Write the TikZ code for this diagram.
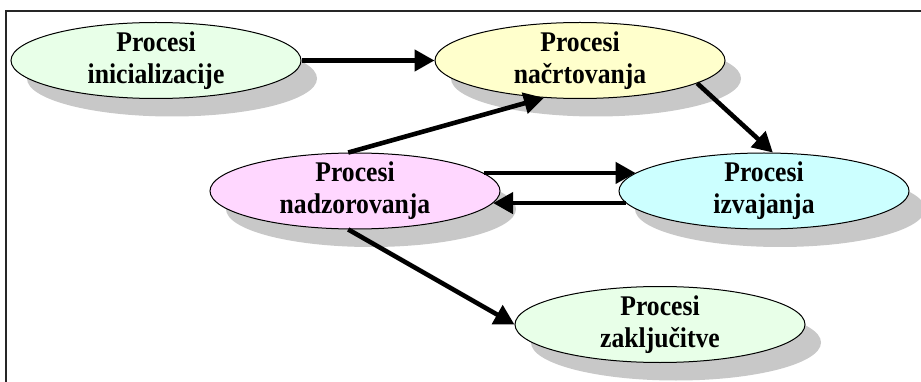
\documentclass[tikz,border=0pt]{standalone}
\usepackage{fontspec}
\setmainfont{Liberation Serif}
\newfontfamily\phasefont{Liberation Serif}[FakeStretch=0.9]
\usetikzlibrary{shapes.geometric,shadows,arrows.meta}

\definecolor{fillgreen}{RGB}{232,255,232}
\definecolor{fillyellow}{RGB}{255,255,204}
\definecolor{fillpink}{RGB}{255,215,255}
\definecolor{fillcyan}{RGB}{204,255,255}
\definecolor{shadowgray}{RGB}{200,200,200}

\tikzset{
  phase/.style={ellipse, draw=black, line width=1pt,
    minimum width=290pt, minimum height=76pt,
    inner xsep=0pt, inner ysep=-8pt, align=center,
    font=\phasefont\bfseries\fontsize{28.5}{32}\selectfont,
    drop shadow={shadow xshift=16pt, shadow yshift=-18pt,
      opacity=1, fill=shadowgray}},
  flow/.style={line width=4.6pt, -{Triangle[length=20pt,width=21pt]}},
  frame/.style={line width=1.6pt, draw=black!85}
}

\begin{document}
\begin{tikzpicture}[x=1pt,y=-1pt]
  \useasboundingbox (0,0) rectangle (921,382);

  % outer frame (only top and left edges fall inside the page)
  \draw[frame] (921,11) -- (6,11) -- (6,382);

  % process groups
  \node[phase, fill=fillgreen]  (inic)  at (156,60.5) {Procesi\\inicializacije};
  \node[phase, fill=fillyellow] (nacrt) at (580,60.5) {Procesi\\načrtovanja};
  \node[phase, fill=fillpink]   (nadz)  at (355,191)  {Procesi\\nadzorovanja};
  \node[phase, fill=fillcyan]   (izv)   at (764,191)  {Procesi\\izvajanja};
  \node[phase, fill=fillgreen]  (zakl)  at (660,324.5){Procesi\\zaključitve};

  % transitions between the groups
  \draw[flow] (inic) -- (nacrt);
  \draw[flow] (nadz.100) -- (nacrt.226);
  \draw[flow] (nacrt.-11) -- (izv.77);
  \draw[flow] (nadz.8) -- (izv.172);
  \draw[flow] (izv.185) -- (nadz.-5);
  \draw[flow] (nadz.260) -- (zakl.180);
\end{tikzpicture}
\end{document}
